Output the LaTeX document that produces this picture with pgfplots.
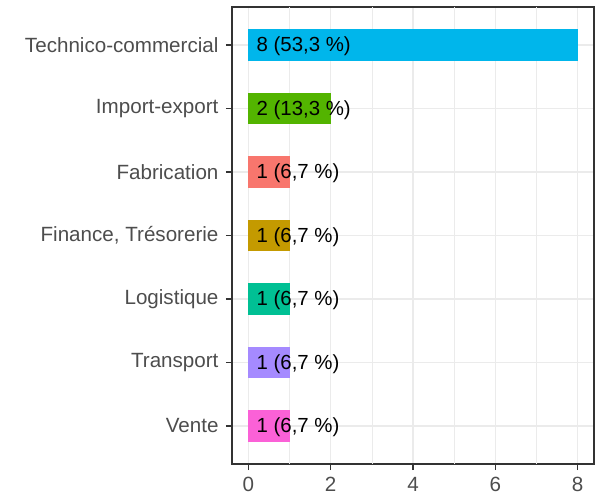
\documentclass[border=0pt]{standalone}
\usepackage{pgfplots}
\pgfplotsset{compat=1.18}
\usepackage{fontspec}
\setmainfont{Liberation Sans}
\definecolor{cTech}{HTML}{00B6EB}
\definecolor{cImp}{HTML}{53B400}
\definecolor{cFab}{HTML}{F8766D}
\definecolor{cFin}{HTML}{C49A00}
\definecolor{cLog}{HTML}{00C094}
\definecolor{cTra}{HTML}{A58AFF}
\definecolor{cVen}{HTML}{FB61D7}
\definecolor{gridc}{HTML}{EBEBEB}
\definecolor{axc}{HTML}{333333}
\definecolor{labc}{HTML}{4D4D4D}
\begin{document}
\begin{tikzpicture}
\begin{axis}[
  scale only axis,
  width=362pt, height=457pt,
  xmin=-0.4, xmax=8.4,
  ymin=0.4, ymax=7.6,
  xtick={0,2,4,6,8},
  ytick={1,2,3,4,5,6,7},
  yticklabels={Vente,Transport,Logistique,{Finance, Trésorerie},Fabrication,Import-export,Technico-commercial},
  extra x ticks={1,3,5,7},
  extra x tick labels={},
  extra x tick style={major tick length=0pt, major grid style={gridc, line width=0.7pt}},
  xmajorgrids, ymajorgrids,
  major grid style={gridc, line width=1.4pt},
  axis line style={axc, line width=1.5pt},
  tick align=outside,
  major tick length=6pt,
  every tick/.style={axc, line width=1.4pt},
  xtick pos=left, ytick pos=left,
  /pgf/number format/assume math mode=true,
  tick label style={font=\fontsize{20.6}{24}\selectfont, text=labc},
  yticklabel style={xshift=-4pt},
  xticklabel style={yshift=-4pt},
  clip=false,
]
\addplot[xbar, bar width=0.5, bar shift=0pt, fill=cTech, draw=none] coordinates {(8,7)};
\addplot[xbar, bar width=0.5, bar shift=0pt, fill=cImp, draw=none] coordinates {(2,6)};
\addplot[xbar, bar width=0.5, bar shift=0pt, fill=cFab, draw=none] coordinates {(1,5)};
\addplot[xbar, bar width=0.5, bar shift=0pt, fill=cFin, draw=none] coordinates {(1,4)};
\addplot[xbar, bar width=0.5, bar shift=0pt, fill=cLog, draw=none] coordinates {(1,3)};
\addplot[xbar, bar width=0.5, bar shift=0pt, fill=cTra, draw=none] coordinates {(1,2)};
\addplot[xbar, bar width=0.5, bar shift=0pt, fill=cVen, draw=none] coordinates {(1,1)};
\addplot[draw=none, mark=none, only marks,
  nodes near coords, point meta=explicit symbolic,
  nodes near coords style={anchor=west, font=\fontsize{20.4}{24}\selectfont, text=black, xshift=5pt, yshift=-1.5pt, inner sep=3pt}]
  coordinates {
  (0,7) [8 (53,3 \%)]
  (0,6) [2 (13,3 \%)]
  (0,5) [1 (6,7 \%)]
  (0,4) [1 (6,7 \%)]
  (0,3) [1 (6,7 \%)]
  (0,2) [1 (6,7 \%)]
  (0,1) [1 (6,7 \%)]
  };
\pgfplotsinvokeforeach{1,2,3,4,5,6,7}{
  \draw[axc, line width=1.4pt] (axis cs:-0.4,#1) -- ++(-6pt,0pt);
}
\pgfplotsinvokeforeach{0,2,4,6,8}{
  \draw[axc, line width=1.4pt] (axis cs:#1,0.4) -- ++(0pt,-6pt);
}
\end{axis}
\path (current axis.south west) ++(-232pt,-34pt) rectangle ++(601pt,498pt);
\end{tikzpicture}
\end{document}
